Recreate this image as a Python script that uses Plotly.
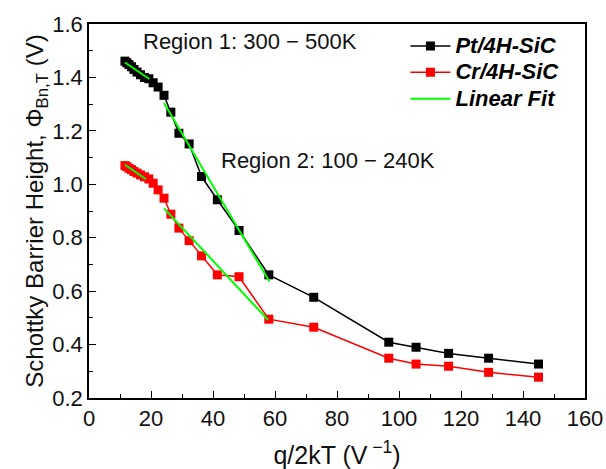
import plotly.graph_objects as go

# q/2kT values (V^-1)
q2kT = [11.6, 12.2, 12.9, 13.7, 14.5, 15.5, 16.6, 17.9, 19.3, 20.7, 22.3, 24.2, 26.4,
        29.0, 32.3, 36.3, 41.4, 48.4, 58.0, 72.5, 96.7, 105.5, 116.0, 128.9, 145.0]
pt_phi = [1.461, 1.455, 1.448, 1.440, 1.430, 1.420, 1.410, 1.400, 1.395, 1.380, 1.364,
          1.333, 1.270, 1.191, 1.151, 1.029, 0.942, 0.827, 0.661, 0.577, 0.409, 0.390,
          0.367, 0.349, 0.327]
cr_phi = [1.070, 1.066, 1.060, 1.055, 1.048, 1.042, 1.035, 1.028, 1.020, 1.004, 0.979,
          0.948, 0.888, 0.836, 0.789, 0.732, 0.661, 0.654, 0.495, 0.465, 0.349, 0.327,
          0.319, 0.296, 0.278]

# Linear fit segments (endpoints): Pt region1, Pt region2, Cr region1, Cr region2
fit_x = [11.6, 19.5, None, 24.2, 58.2, None, 11.6, 18.4, None, 24.2, 57.8]
fit_y = [1.456, 1.394, None, 1.304, 0.636, None, 1.073, 1.019, None, 0.910, 0.492]

x_ticks = [0, 20, 40, 60, 80, 100, 120, 140, 160]
y_ticks = [0.2, 0.4, 0.6, 0.8, 1.0, 1.2, 1.4, 1.6]

FONT = "Arial, Liberation Sans, sans-serif"


def leg(s):
    return '<span style="font-size:22px"><b><i>' + s + '</i></b></span>'


fig = go.Figure()
fig.add_trace(go.Scatter(x=q2kT, y=pt_phi, mode="lines+markers", name=leg("Pt/4H-SiC"),
                         line=dict(color="black", width=1.5),
                         marker=dict(symbol="square", size=9, color="black")))
fig.add_trace(go.Scatter(x=q2kT, y=cr_phi, mode="lines+markers", name=leg("Cr/4H-SiC"),
                         line=dict(color="#ff0000", width=1.5),
                         marker=dict(symbol="square", size=9, color="#ff0000")))
fig.add_trace(go.Scatter(x=fit_x, y=fit_y, mode="lines", name=leg("Linear Fit"),
                         line=dict(color="#00ff00", width=2)))

fig.add_annotation(x=52.0, y=1.533, xref="x", yref="y", text="Region 1: 300 − 500K",
                   showarrow=False, font=dict(family=FONT, size=22, color="#111"))
fig.add_annotation(x=77.0, y=1.088, xref="x", yref="y", text="Region 2: 100 − 240K",
                   showarrow=False, font=dict(family=FONT, size=22, color="#111"))

axis_common = dict(showline=True, linecolor="black", linewidth=1.5, mirror=True,
                   ticks="inside", ticklen=7, tickwidth=1.2, tickcolor="black",
                   showgrid=False, zeroline=False, automargin=False,
                   tickfont=dict(family=FONT, size=22, color="#111"))

fig.update_xaxes(range=[0, 160], tickvals=x_ticks,
                 minor=dict(ticks="inside", ticklen=4, tickcolor="black", dtick=10, tick0=0),
                 title=dict(text="q/2kT (V<sup> −1</sup>)", font=dict(family=FONT, size=25, color="#111"), standoff=17),
                 **axis_common)
fig.update_yaxes(range=[0.2, 1.6], tickvals=y_ticks, tickformat=".1f",
                 minor=dict(ticks="inside", ticklen=4, tickcolor="black", dtick=0.1, tick0=0.2),
                 title=dict(text="Schottky Barrier Height, Φ<sub>Bn,T</sub> (V)", font=dict(family=FONT, size=24, color="#111"), standoff=2),
                 **axis_common)

fig.update_layout(
    width=606, height=469,
    margin=dict(l=89, r=21, t=24, b=71),
    plot_bgcolor="white", paper_bgcolor="white",
    font=dict(family=FONT, color="black"),
    showlegend=True,
    legend=dict(x=0.638, y=0.99, xanchor="left", yanchor="top",
                bgcolor="rgba(0,0,0,0)", borderwidth=0,
                font=dict(family=FONT, size=18, color="black"),
                itemwidth=40, tracegroupgap=0),
)

fig.write_html("out.html")
